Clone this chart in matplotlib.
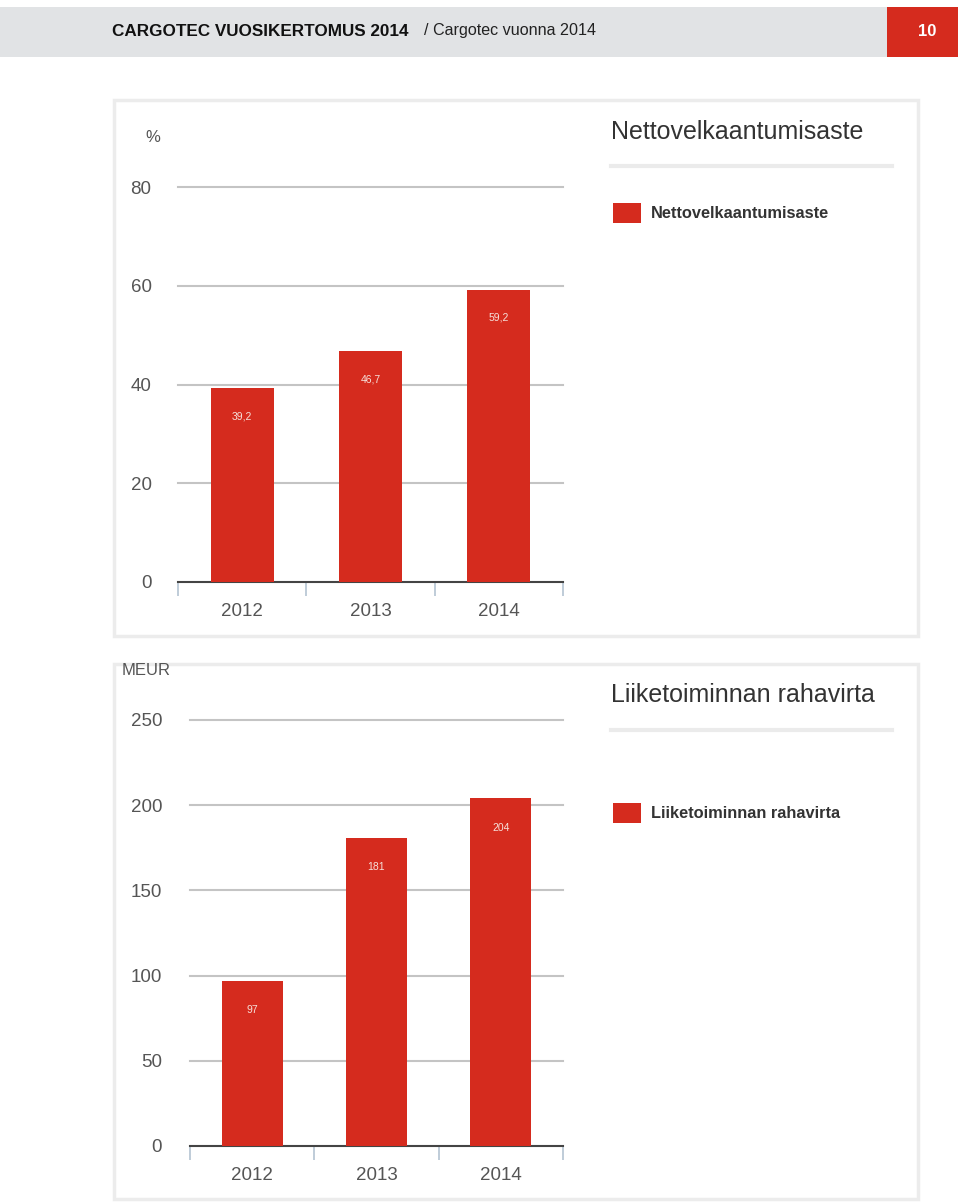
import matplotlib.pyplot as plt
from matplotlib.patches import Rectangle

# ==========================================
# DATA
# ==========================================
years = ["2012", "2013", "2014"]
gearing = [39.2, 46.7, 59.2]
gearing_labels = ["39,2", "46,7", "59,2"]
cashflow = [97, 181, 204]
cashflow_labels = ["97", "181", "204"]

gearing_ticks = [0, 20, 40, 60, 80]
cashflow_ticks = [0, 50, 100, 150, 200, 250]

RED = "#d52b1e"
W, H = 960, 1202
plt.rcParams["font.family"] = ["Liberation Sans", "DejaVu Sans"]

fig = plt.figure(figsize=(W / 100, H / 100), dpi=100)


def fx(px):
    return px / W


def fy(py):
    return 1 - py / H


def box(x0, y0, x1, y1, z=-1, **kw):
    # rectangle in pixel coords (top-left origin)
    r = Rectangle((fx(x0), fy(y1)), fx(x1 - x0), (y1 - y0) / H,
                  transform=fig.transFigure, zorder=z, **kw)
    fig.add_artist(r)


# ==========================================
# HEADER
# ==========================================
box(0, 7, 887, 57, facecolor="#e1e3e5", edgecolor="none")
box(887, 7, 958, 57, facecolor=RED, edgecolor="none")
fig.text(fx(112), fy(31), "CARGOTEC VUOSIKERTOMUS 2014", fontsize=12.3,
         fontweight="bold", color="#111111", va="center")
fig.text(fx(424), fy(31), "/ Cargotec vuonna 2014", fontsize=11.6,
         color="#222222", va="center")
fig.text(fx(927), fy(31), "10", fontsize=12, fontweight="bold",
         color="white", va="center", ha="center")

# panel frames
box(114, 100, 918, 636, z=-2, facecolor="white", edgecolor="#ececec", lw=2.5)
box(114, 664, 918, 1199, z=-2, facecolor="white", edgecolor="#ececec", lw=2.5)


def draw_chart(left, right, top, bottom, values, labels, ticks, pad, label_off):
    ax = fig.add_axes([fx(left), fy(bottom), fx(right - left), (bottom - top) / H])
    ax.set_facecolor("none")
    x = range(len(years))
    ax.bar(x, values, width=0.49, color=RED, zorder=3)
    for xi, v, lab in zip(x, values, labels):
        ax.annotate(lab, xy=(xi, v), xytext=(0, -label_off), textcoords="offset points",
                    ha="center", va="center", fontsize=7.5, color="#f6e0da", zorder=4)
    ax.set_xlim(-0.5, len(years) - 0.5)
    ax.set_ylim(0, ticks[-1])
    ax.set_yticks(ticks)
    ax.set_yticklabels([str(t) for t in ticks])
    for t in ticks[1:]:
        ax.axhline(t, color="#c4c4c4", lw=1.5, zorder=1, clip_on=False)
    for s in ["top", "left", "right"]:
        ax.spines[s].set_visible(False)
    ax.spines["bottom"].set_color("#444444")
    ax.spines["bottom"].set_linewidth(1.5)
    ax.tick_params(axis="y", length=0, pad=pad, labelsize=13.5, labelcolor="#555555")
    ax.set_xticks(list(x))
    ax.set_xticklabels(years)
    ax.tick_params(axis="x", which="major", length=0, pad=15, labelsize=13.5,
                   labelcolor="#555555")
    ax.set_xticks([i - 0.5 for i in range(len(years) + 1)], minor=True)
    ax.tick_params(axis="x", which="minor", length=10, width=1.2, color="#b4c3d2")
    return ax


# ==========================================
# CHART 1: Nettovelkaantumisaste
# ==========================================
draw_chart(178, 563, 187, 582, gearing, gearing_labels, gearing_ticks, 19, 20)
fig.text(fx(153), fy(137), "%", fontsize=12, color="#555555", ha="center", va="center")
fig.text(fx(611), fy(132), "Nettovelkaantumisaste", fontsize=18,
         color="#333333", va="center")
fig.add_artist(plt.Line2D([fx(611), fx(892)], [fy(166), fy(166)],
                          transform=fig.transFigure, color="#ebebeb", lw=3))
box(613, 203, 641, 223, z=1, facecolor=RED, edgecolor="none")
fig.text(fx(651), fy(213), "Nettovelkaantumisaste", fontsize=11.8,
         fontweight="bold", color="#333333", va="center")

# ==========================================
# CHART 2: Liiketoiminnan rahavirta
# ==========================================
draw_chart(190, 563, 720, 1146, cashflow, cashflow_labels, cashflow_ticks, 20, 21)
fig.text(fx(146), fy(671), "MEUR", fontsize=12, color="#555555", ha="center", va="center")
fig.text(fx(611), fy(695), "Liiketoiminnan rahavirta", fontsize=18,
         color="#333333", va="center")
fig.add_artist(plt.Line2D([fx(611), fx(892)], [fy(730), fy(730)],
                          transform=fig.transFigure, color="#ebebeb", lw=3))
box(613, 803, 641, 823, z=1, facecolor=RED, edgecolor="none")
fig.text(fx(651), fy(813), "Liiketoiminnan rahavirta", fontsize=11.8,
         fontweight="bold", color="#333333", va="center")

plt.savefig("out.png", dpi=100)
